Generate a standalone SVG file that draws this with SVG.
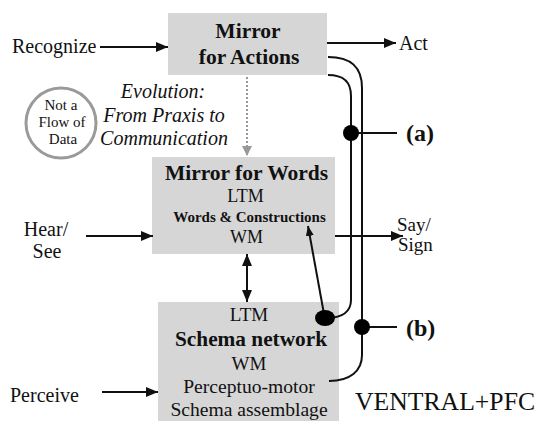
<svg xmlns="http://www.w3.org/2000/svg" width="536" height="421" viewBox="0 0 536 421" font-family="'Liberation Serif', 'Times New Roman', 'DejaVu Serif', serif">
<defs>
<style>
text{fill:#111;}
.b{font-weight:bold;}
.c{text-anchor:middle;}
.box{fill:#d6d6d6;}
.ln{fill:none;stroke:#111;stroke-width:2;}
.dot{fill:#000;}
</style>
<marker id="ah" viewBox="0 0 12 10" refX="12" refY="5" markerWidth="12" markerHeight="10" markerUnits="userSpaceOnUse" orient="auto-start-reverse">
<path d="M0,0 L12,5 L0,10 Z" fill="#111"/>
</marker>
<marker id="ahs" viewBox="0 0 10 8" refX="10" refY="4" markerWidth="10" markerHeight="8" markerUnits="userSpaceOnUse" orient="auto">
<path d="M0,0 L10,4 L0,8 Z" fill="#111"/>
</marker>
<marker id="ahg" viewBox="0 0 10 10" refX="5" refY="10" markerWidth="10" markerHeight="10" markerUnits="userSpaceOnUse" orient="0">
<path d="M0,0 L10,0 L5,10 Z" fill="#999"/>
</marker>
</defs>

<g id="mirror-actions">
<rect class="box" x="168" y="13" width="159" height="62"/>
<text class="b c" x="248" y="38" font-size="21.5">Mirror</text>
<text class="b c" x="249" y="64" font-size="21.5">for Actions</text>
</g>

<g id="mirror-words">
<rect class="box" x="152" y="157" width="183" height="97"/>
<text class="b c" x="246.5" y="180" font-size="21.5">Mirror for Words</text>
<text class="c" x="245.5" y="202" font-size="18">LTM</text>
<text class="b c" x="249.5" y="222" font-size="15">Words &amp; Constructions</text>
<text class="c" x="246.5" y="243" font-size="18">WM</text>
</g>

<g id="schema-network">
<rect class="box" x="158" y="302" width="181" height="119"/>
<text class="c" x="249" y="321" font-size="19">LTM</text>
<text class="b c" x="251" y="346" font-size="21.3">Schema network</text>
<text class="c" x="249" y="370" font-size="19">WM</text>
<text class="c" x="249" y="393" font-size="19.6">Perceptuo-motor</text>
<text class="c" x="249" y="416" font-size="19.6">Schema assemblage</text>
</g>

<g id="not-a-flow">
<circle cx="61" cy="123" r="35" fill="none" stroke="#9a9a9a" stroke-width="3"/>
<text class="c" x="61" y="110" font-size="15">Not a</text>
<text class="c" x="62" y="127" font-size="15">Flow of</text>
<text class="c" x="63" y="144" font-size="15">Data</text>
</g>

<g id="evolution">
<text class="c" x="163" y="98" font-size="20" font-style="italic">Evolution:</text>
<text class="c" x="164" y="122" font-size="20" font-style="italic">From Praxis to</text>
<text class="c" x="164" y="145" font-size="20" font-style="italic">Communication</text>
</g>

<g id="labels">
<text x="12" y="53" font-size="20">Recognize</text>
<text x="399" y="50" font-size="20">Act</text>
<text class="c" x="46" y="236" font-size="20">Hear/</text>
<text class="c" x="47" y="258" font-size="20">See</text>
<text x="397" y="231" font-size="19">Say/</text>
<text x="398" y="251" font-size="19">Sign</text>
<text x="10" y="402" font-size="20">Perceive</text>
<text class="b" x="406" y="141" font-size="24">(a)</text>
<text class="b" x="406" y="336" font-size="24">(b)</text>
<text x="355" y="410" font-size="25.7">VENTRAL+PFC</text>
</g>

<g id="connectors">
<path class="ln" d="M100,47 H168" marker-end="url(#ah)"/>
<path class="ln" d="M327,43 H396" marker-end="url(#ah)"/>
<path class="ln" d="M86,236 H153" marker-end="url(#ah)"/>
<path class="ln" d="M335,236 H403" marker-end="url(#ah)"/>
<path class="ln" d="M102,392 H158" marker-end="url(#ah)"/>
<path class="ln" d="M247,254 V302" marker-start="url(#ah)" marker-end="url(#ah)"/>
<path d="M247,77 V156" fill="none" stroke="#999" stroke-width="2" stroke-dasharray="2,2" marker-end="url(#ahg)"/>
<path class="ln" d="M328,57 C350,57 362,66 362,88 V355 C362,371 350,381 329,381"/>
<path class="ln" d="M328,75 C343,75 351,81 351,96 V300 C351,311 343,318 326,318"/>
<path class="ln" d="M351,133 H397"/>
<path class="ln" d="M362,327 H397"/>
<path class="ln" d="M324,314 L308,226" stroke-width="1.6" marker-end="url(#ahs)"/>
<circle class="dot" cx="351" cy="133" r="8"/>
<circle class="dot" cx="362" cy="327" r="8"/>
<ellipse class="dot" cx="325" cy="318" rx="10" ry="8"/>
</g>
</svg>
